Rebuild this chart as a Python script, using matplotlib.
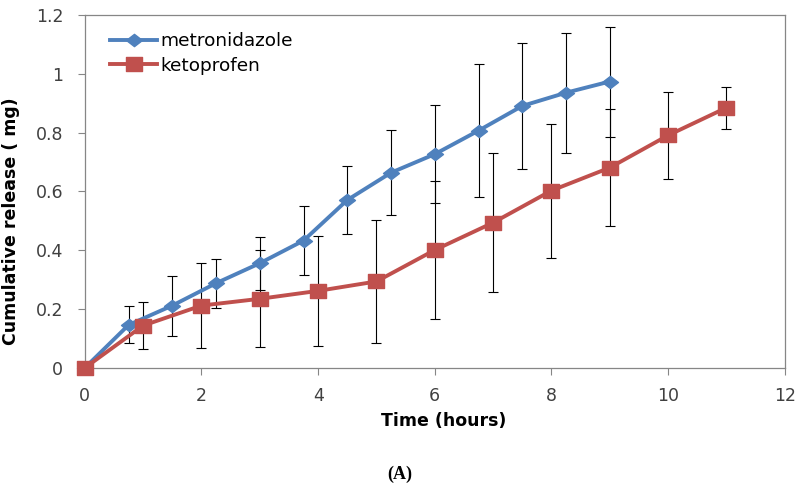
import numpy as np
import matplotlib
matplotlib.use("Agg")
import matplotlib.pyplot as plt
from matplotlib.path import Path

# # # # # data # # # # #

met_time = [0, 0.75, 1.5, 2.25, 3, 3.75, 4.5, 5.25, 6, 6.75, 7.5, 8.25, 9]
met_release = [0, 0.146, 0.212, 0.288, 0.356, 0.433, 0.571, 0.664, 0.727, 0.807, 0.891, 0.936, 0.974]
met_err = [0, 0.063, 0.102, 0.084, 0.09, 0.117, 0.115, 0.145, 0.167, 0.225, 0.214, 0.204, 0.187]

ket_time = [0, 1, 2, 3, 4, 5, 6, 7, 8, 9, 10, 11]
ket_release = [0, 0.144, 0.212, 0.235, 0.262, 0.294, 0.401, 0.494, 0.603, 0.681, 0.791, 0.885]
ket_err = [0, 0.08, 0.145, 0.165, 0.187, 0.209, 0.234, 0.237, 0.228, 0.2, 0.149, 0.071]

x_ticks = [0, 2, 4, 6, 8, 10, 12]
y_ticks = [0, 0.2, 0.4, 0.6, 0.8, 1.0, 1.2]
y_tick_labels = ["0", "0.2", "0.4", "0.6", "0.8", "1", "1.2"]

plt.rcParams['font.family'] = ['DejaVu Sans']

# the source image is stretched sideways, so use wide markers
wide_diamond = Path([(-1.3, 0), (0, 1), (1.3, 0), (0, -1), (-1.3, 0)],
	[Path.MOVETO, Path.LINETO, Path.LINETO, Path.LINETO, Path.CLOSEPOLY])
wide_square = Path([(-1.12, -1), (1.12, -1), (1.12, 1), (-1.12, 1), (-1.12, -1)],
	[Path.MOVETO, Path.LINETO, Path.LINETO, Path.LINETO, Path.CLOSEPOLY])

# initiate figure
fig = plt.figure(figsize=(8, 4.86), dpi=100)
ax = fig.add_axes([0.106, 0.243, 0.875, 0.726])

# error bars first so the lines sit on top
for t, r, e in [(met_time, met_release, met_err), (ket_time, ket_release, ket_err)]:
	ax.errorbar(t, r, yerr=e, fmt='none', ecolor='black', elinewidth=0.8,
		capsize=3.6, capthick=0.8, zorder=2)

# plot series
ax.plot(met_time, met_release, color='#4F81BD', linewidth=2.8, marker=wide_diamond,
	markersize=11.5, label='metronidazole', zorder=3)
ax.plot(ket_time, ket_release, color='#C0504D', linewidth=2.8, marker=wide_square,
	markersize=12, label='ketoprofen', zorder=3)

# axes limits and ticks
ax.set_xlim(0, 12)
ax.set_ylim(0, 1.2)
ax.set_xticks(x_ticks)
ax.set_yticks(y_ticks)
ax.set_yticklabels(y_tick_labels)
ax.tick_params(direction='out', length=5, width=0.8, color='#868686',
	labelsize=12.5, labelcolor='#404040')
ax.tick_params(axis='x', pad=8.5)
ax.tick_params(axis='y', pad=10.5)

for side in ['left', 'right', 'top', 'bottom']:
	ax.spines[side].set_color('#868686')
	ax.spines[side].set_linewidth(0.9)

for artist in ax.lines + ax.collections:
	artist.set_clip_on(False)

# labels
ax.set_xlabel('Time (hours)', fontsize=12.5, fontweight='bold')
ax.xaxis.set_label_coords(0.513, -0.1246)
ax.set_ylabel('Cumulative release ( mg)', fontsize=12.5, fontweight='bold')
ax.yaxis.set_label_coords(-0.093, 0.416)

leg = ax.legend(loc='upper left', bbox_to_anchor=(0.036, 0.952), frameon=False,
	fontsize=13.3, handlelength=2.55, borderaxespad=0, borderpad=0,
	labelspacing=0.36, handletextpad=0.17)

fig.text(0.5, 0.025, '(A)', family='Liberation Serif', fontweight='bold',
	fontsize=13, ha='center', va='center')

fig.savefig('out.png', dpi=100)
